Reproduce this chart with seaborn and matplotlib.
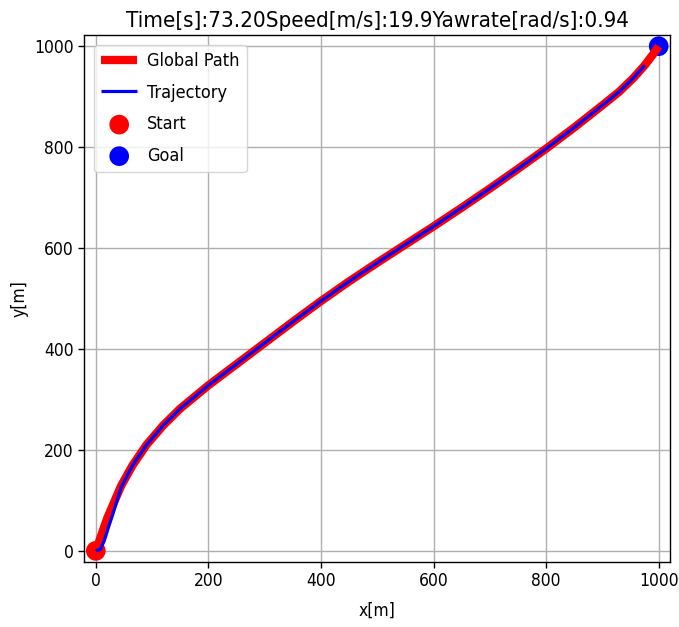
import matplotlib
matplotlib.use("Agg")
import matplotlib.pyplot as plt
import seaborn as sns
import pandas as pd

# Global path reference points (x, y in metres)
path_x = [0, 20, 45, 65, 90, 120, 150, 200, 250, 300, 350, 400, 450, 500, 550,
          600, 650, 700, 750, 800, 850, 900, 930, 955, 975, 990, 1000]
path_y = [0, 64, 129, 169, 210, 249, 282, 328, 370, 412, 454, 495, 534, 571, 607,
          643, 680, 718, 757, 797, 839, 883, 910, 937, 962, 984, 1000]

# Vehicle trajectory followed along the path
traj_x = [0, 8, 15, 22, 30, 45, 65, 90, 120, 150, 200, 250, 300, 350, 400, 450, 500, 550,
          600, 650, 700, 750, 800, 850, 900, 930, 955, 975]
traj_y = [0, 3, 20, 45, 72, 126, 169, 210, 249, 282, 328, 370, 412, 454, 495, 534, 571, 607,
          643, 680, 718, 757, 797, 839, 883, 910, 937, 962]

start = (0, 0)
goal = (1000, 1000)

time_s = 73.20
speed = 19.9
yawrate = 0.94

sns.set_style("ticks", {
    "axes.grid": True,
    "grid.color": "#b0b0b0",
    "axes.edgecolor": "black",
    "axes.labelcolor": "black",
    "text.color": "black",
    "xtick.color": "black",
    "ytick.color": "black",
    "xtick.direction": "out",
    "ytick.direction": "out",
})
plt.rcParams["font.family"] = ["DejaVu Sans"]
plt.rcParams["font.stretch"] = "condensed"

fig = plt.figure(figsize=(6.79, 6.27), dpi=100)
ax = fig.add_axes([0.1237, 0.1037, 0.8630, 0.8403])

path_df = pd.DataFrame({"x": path_x, "y": path_y})
traj_df = pd.DataFrame({"x": traj_x, "y": traj_y})

sns.lineplot(data=path_df, x="x", y="y", sort=False, color="red", linewidth=6,
             solid_capstyle="butt", label="Global Path", ax=ax)
sns.lineplot(data=traj_df, x="x", y="y", sort=False, color="blue", linewidth=2.3,
             solid_capstyle="butt", label="Trajectory", ax=ax)
sns.scatterplot(x=[start[0]], y=[start[1]], color="red", s=200, edgecolor="none",
                label="Start", ax=ax)
sns.scatterplot(x=[goal[0]], y=[goal[1]], color="blue", s=200, edgecolor="none",
                label="Goal", ax=ax)

ax.set_xlim(-21, 1020)
ax.set_ylim(-22, 1022)
ax.set_xticks([0, 200, 400, 600, 800, 1000])
ax.set_yticks([0, 200, 400, 600, 800, 1000])
ax.tick_params(labelsize=12.5, length=4, width=1, color="black", labelcolor="black")
for s in ax.spines.values():
    s.set_linewidth(1)
    s.set_color("black")
ax.grid(True, color="#b0b0b0", linewidth=1)

ax.set_xlabel("x[m]", fontsize=12.5, color="black", labelpad=8)
ax.set_ylabel("y[m]", fontsize=12.5, color="black")
ax.set_title("Time[s]:%.2fSpeed[m/s]:%.1fYawrate[rad/s]:%.2f" % (time_s, speed, yawrate),
             fontsize=16, pad=6, color="black")

leg = ax.legend(loc="upper left", fontsize=13, frameon=True, framealpha=0.8,
                edgecolor="#cccccc", fancybox=True, handlelength=2.0,
                handletextpad=0.55, labelspacing=0.75, borderaxespad=0.55)
for t in leg.get_texts():
    t.set_color("black")

fig.savefig("out.png", dpi=100)
